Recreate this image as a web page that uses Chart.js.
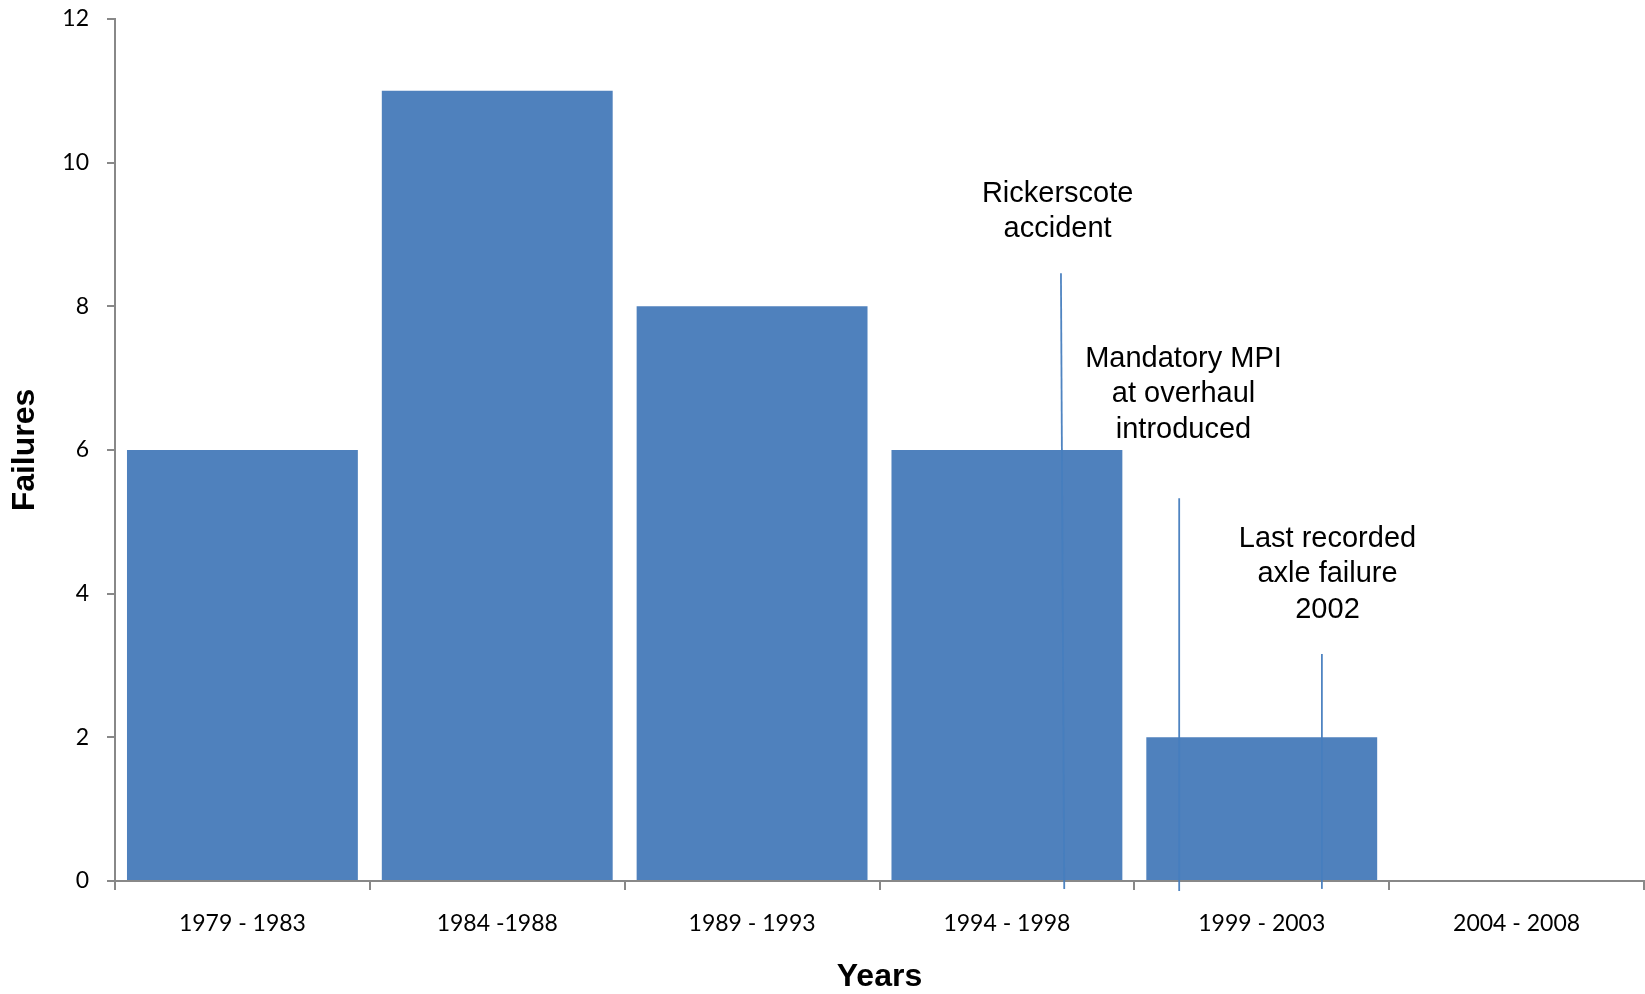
<!DOCTYPE html>
<html>
<head>
<meta charset="utf-8">
<script src="https://cdn.jsdelivr.net/npm/chart.js@4.4.0/dist/chart.umd.min.js"></script>
<style>
html,body{margin:0;padding:0;background:#fff;}
#wrap{width:1645px;height:994px;position:relative;}
</style>
</head>
<body>
<div id="wrap"><canvas id="c" width="1645" height="994"></canvas></div>
<script>
// ---- data ----
const categories = ["1979 - 1983", "1984 -1988", "1989 - 1993", "1994 - 1998", "1999 - 2003", "2004 - 2008"];
const failures = [6, 11, 8, 6, 2, 0];
const yMin = 0, yMax = 12, yStep = 2;
const xTitle = "Years";
const yTitle = "Failures";

// annotation call-outs (x in category-index units, y in failure units)
const noteTexts = [["Rickerscote", "accident"], ["Mandatory MPI", "at overhaul", "introduced"], ["Last recorded", "axle failure", "2002"]];
const noteTextX = [3.199, 3.693, 4.258];
const noteTextY = [9.57, 7.27, 4.765];
const noteLineTopX = [3.212, 3.676, 4.236];
const noteLineBottomX = [3.225, 3.676, 4.236];
const noteLineTopY = [8.46, 5.33, 3.16];
const noteLineBottomY = [-0.11, -0.14, -0.11];

const barColor = "#4F81BD";
const axisColor = "#888888";

const notesPlugin = {
  id: 'notes',
  afterDatasetsDraw(chart) {
    const {ctx, scales: {x, y}} = chart;
    ctx.save();
    ctx.strokeStyle = "rgba(70,125,190,0.95)";
    ctx.lineWidth = 1.8;
    for (let i = 0; i < noteTexts.length; i++) {
      ctx.beginPath();
      ctx.moveTo(x.getPixelForValue(noteLineTopX[i]), y.getPixelForValue(noteLineTopY[i]));
      ctx.lineTo(x.getPixelForValue(noteLineBottomX[i]), y.getPixelForValue(noteLineBottomY[i]));
      ctx.stroke();
    }
    ctx.fillStyle = "#000";
    ctx.font = "29px 'Liberation Sans', Arial, sans-serif";
    ctx.textAlign = "center";
    ctx.textBaseline = "middle";
    const lh = 35.5;
    for (let i = 0; i < noteTexts.length; i++) {
      const px = x.getPixelForValue(noteTextX[i]);
      const py = y.getPixelForValue(noteTextY[i]);
      noteTexts[i].forEach((t, j) => ctx.fillText(t, px, py + j * lh));
    }
    ctx.restore();
  }
};

new Chart(document.getElementById('c'), {
  type: 'bar',
  data: {
    labels: categories,
    datasets: [{
      data: failures,
      backgroundColor: barColor,
      borderWidth: 0,
      barPercentage: 0.906,
      categoryPercentage: 1.0
    }]
  },
  options: {
    responsive: false,
    animation: false,
    devicePixelRatio: 1,
    layout: {padding: {top: 19, right: 1, bottom: 0, left: 0}},
    plugins: {legend: {display: false}, tooltip: {enabled: false}},
    scales: {
      x: {
        offset: true,
        grid: {display: true, drawOnChartArea: false, offset: true, tickLength: 9, color: axisColor, lineWidth: 2},
        border: {display: true, color: axisColor, width: 2},
        ticks: {color: "#000", font: {family: "Lato", size: 23}, padding: 20, maxRotation: 0, autoSkip: false},
        title: {display: true, text: xTitle, color: "#000", font: {family: "'Liberation Sans', Arial", size: 32, weight: 'bold', lineHeight: 1}, padding: {top: 0, bottom: 1}},
        afterFit(scale) { scale.height = 113; scale.paddingLeft = 0; scale.paddingRight = 0; }
      },
      y: {
        min: yMin, max: yMax,
        grid: {display: true, drawOnChartArea: false, tickLength: 8, color: axisColor, lineWidth: 2},
        border: {display: true, color: axisColor, width: 2},
        ticks: {stepSize: yStep, color: "#000", font: {family: "Lato", size: 23}, padding: 18},
        title: {display: true, text: yTitle, color: "#000", font: {family: "'Liberation Sans', Arial", size: 32, weight: 'bold', lineHeight: 1}, padding: {top: 9, bottom: 0}},
        afterFit(scale) { scale.width = 115; scale.paddingTop = 0; scale.paddingBottom = 0; }
      }
    }
  },
  plugins: [notesPlugin]
});
</script>
</body>
</html>
